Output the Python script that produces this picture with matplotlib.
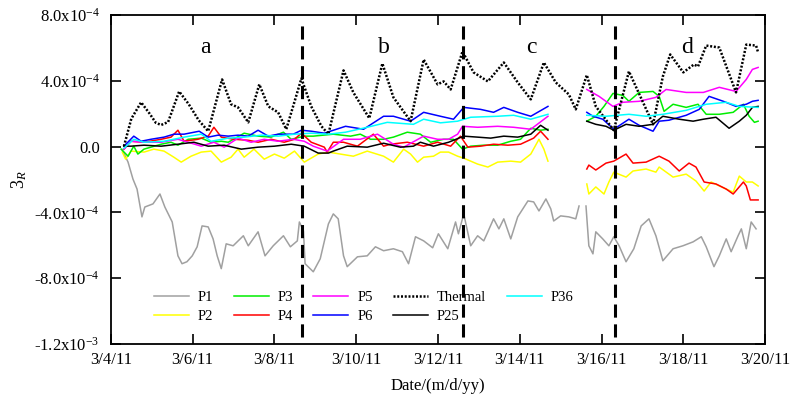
import numpy as np
import matplotlib
matplotlib.use("Agg")
import matplotlib.pyplot as plt

plt.rcParams['font.family'] = ['Liberation Serif', 'DejaVu Serif']
plt.rcParams['mathtext.fontset'] = 'custom'
plt.rcParams['mathtext.rm'] = 'Liberation Serif'
plt.rcParams['mathtext.it'] = 'Liberation Serif:italic'

# strain values are in units of 1e-4, time in days since 3/4/11 00:00
SCALE = 1e-4

p1_days = [0.27, 0.42, 0.54, 0.64, 0.76, 0.83, 1.03, 1.20, 1.32, 1.50, 1.64, 1.74, 1.86, 1.99, 2.11,
           2.23, 2.38, 2.50, 2.60, 2.70, 2.82, 2.99, 3.24, 3.36, 3.60, 3.77, 3.97, 4.22, 4.39, 4.56,
           4.61, 4.71, 4.75, 4.95, 5.12, 5.32, 5.44, 5.56, 5.69, 5.78, 6.03, 6.27, 6.47, 6.67, 6.91,
           7.13, 7.28, 7.45, 7.65, 7.87, 8.01, 8.24, 8.43, 8.50, 8.63, 8.80, 8.97, 9.12, 9.22, 9.36,
           9.49, 9.61, 9.78, 9.95, 10.20, 10.34, 10.47, 10.64, 10.76, 10.83, 11.00, 11.20, 11.37, 11.45,
           11.62, 11.69, 11.79, 11.86, 12.03, 12.18, 12.30, 12.43, 12.60, 12.79, 12.97, 13.16, 13.33,
           13.50, 13.75, 13.99, 14.24, 14.44, 14.56, 14.75, 14.88, 15.05, 15.17, 15.34, 15.42, 15.54,
           15.66, 15.78]
p1_vals = [-0.15, -0.94, -1.97, -2.58, -4.27, -3.67, -3.48, -2.88, -3.67, -4.58, -6.64, -7.12, -7.00, -6.64, -6.09,
           -4.82, -4.88, -5.61, -6.64, -7.42, -5.91, -6.03, -5.42, -6.03, -5.18, -6.64, -6.03, -5.42, -6.09, -5.73,
           -4.58, -5.12, -7.12, -7.61, -6.82, -4.70, -4.09, -4.39, -6.64, -7.30, -6.70, -6.64, -6.09, -6.33, -6.21,
           -6.39, -7.12, -5.48, -5.73, -6.15, -5.30, -6.21, -4.58, -5.30, -4.09, -6.03, -5.42, -5.73, -5.18, -4.39,
           -5.00, -4.39, -5.61, -4.27, -3.30, -3.36, -3.91, -3.18, -3.79, -4.52, -4.21, -4.27, -4.39, -3.61,
           -3.61, -6.03, -6.52, -5.18, -5.61, -6.03, -5.48, -6.03, -7.00, -6.21, -4.82, -4.39, -5.42,
           -6.94, -6.21, -6.03, -5.79, -5.48, -6.09, -7.30, -6.64, -5.61, -6.39, -5.42, -5.00, -6.21,
           -4.58, -5.00]

p2_days = [0.28, 0.36, 0.49, 0.81, 1.05, 1.30, 1.54, 1.72, 1.96, 2.21, 2.45, 2.70, 2.94, 3.11, 3.26,
           3.50, 3.75, 4.00, 4.24, 4.49, 4.73, 5.07, 5.32, 5.93, 6.27, 6.67, 6.91, 7.16, 7.33, 7.50,
           7.65, 7.89, 8.06, 8.26, 8.48, 8.63, 8.97, 9.22, 9.46, 9.78, 10.02, 10.27, 10.47, 10.59, 10.69,
           11.64, 11.69, 11.86, 12.06, 12.18, 12.30, 12.60, 12.77, 13.09, 13.33, 13.41, 13.75, 14.07,
           14.31, 14.51, 14.68, 15.05, 15.22, 15.37, 15.54, 15.69, 15.83]
p2_vals = [-0.33, -0.76, -0.27, -0.33, -0.15, -0.27, -0.64, -0.94, -0.58, -0.33, -0.27, -0.94, -0.64, -0.15, -0.64,
           -0.15, -0.76, -0.45, -0.70, -0.27, -0.94, -0.45, -0.33, -0.58, -0.27, -0.58, -0.94, -0.15, -0.45, -0.94,
           -0.64, -0.58, -0.33, -0.33, -0.58, -0.70, -1.06, -1.24, -0.94, -0.88, -0.94, -0.45, 0.45, -0.15, -0.88,
           -2.27, -2.88, -2.45, -2.88, -2.15, -1.55, -1.85, -1.48, -1.36, -1.55, -1.24, -1.85, -1.67,
           -2.09, -2.70, -2.15, -2.58, -2.76, -1.79, -2.15, -2.15, -2.39]

p3_days = [0.25, 0.42, 0.56, 0.66, 0.81, 1.23, 1.47, 1.64, 1.89, 2.21, 2.45, 2.70, 2.87, 3.26, 3.60,
           3.92, 4.22, 4.41, 4.73, 4.95, 5.44, 5.86, 6.10, 6.35, 6.67, 6.91, 7.25, 7.57, 7.82, 8.14,
           8.38, 8.60, 8.80, 9.12, 9.46, 9.78, 10.02, 10.27, 10.51, 10.69,
           11.64, 11.86, 12.06, 12.28, 12.52, 12.67, 12.92, 13.26, 13.41, 13.53, 13.75, 14.07, 14.36,
           14.56, 14.88, 15.22, 15.47, 15.61, 15.74, 15.83]
p3_vals = [-0.15, -0.58, 0.03, -0.45, -0.15, 0.15, 0.27, 0.09, 0.45, 0.52, 0.27, 0.33, 0.27, 0.82, 0.64,
           0.58, 0.88, 0.45, 0.64, 0.64, 0.76, 0.64, 0.76, 0.45, 0.45, 0.58, 0.88, 0.76, 0.27, 0.45,
           0.45, -0.15, 0.03, 0.09, 0.09, 0.33, 0.45, 1.12, 1.00, 1.06,
           1.55, 1.85, 2.45, 3.24, 3.12, 2.76, 3.30, 3.36, 3.06, 2.15, 2.58, 2.39, 2.58,
           1.97, 1.97, 2.09, 2.58, 1.85, 1.48, 1.55]

p4_days = [0.32, 0.49, 0.81, 1.23, 1.47, 1.64, 1.79, 2.13, 2.38, 2.52, 2.70, 3.01, 3.36, 3.60, 3.92,
           4.24, 4.49, 4.66, 4.90, 5.22, 5.29, 5.44, 5.69, 6.03, 6.42, 6.67, 6.84, 7.25, 7.65, 7.99,
           8.31, 8.55, 8.73, 9.04, 9.36, 9.71, 10.02, 10.34, 10.51, 10.69,
           11.64, 11.69, 11.86, 12.11, 12.30, 12.60, 12.77, 13.09, 13.41, 13.65, 13.90, 14.14, 14.31,
           14.51, 14.80, 15.05, 15.22, 15.47, 15.54, 15.64, 15.83]
p4_vals = [-0.15, 0.33, 0.27, 0.45, 0.58, 1.00, 0.33, 0.45, 0.64, 1.18, 0.58, 0.45, 0.39, 0.27, 0.45,
           0.27, 0.45, 0.82, 0.27, -0.03, -0.33, 0.27, 0.27, 0.03, 0.76, 0.03, 0.15, 0.27, 0.03, 0.27,
           0.03, 0.64, -0.03, 0.03, 0.15, 0.09, 0.15, 0.52, 0.94, 0.45,
           -1.36, -1.12, -1.42, -1.00, -0.88, -0.45, -1.00, -0.94, -0.58, -0.88, -1.48, -1.00, -1.24,
           -2.15, -2.27, -2.58, -2.88, -2.15, -2.39, -3.24, -3.24]

p5_days = [0.32, 0.49, 0.81, 1.23, 1.64, 1.89, 2.21, 2.52, 2.77, 3.11, 3.43, 3.75, 4.09, 4.46, 4.73,
           4.95, 5.29, 5.69, 6.10, 6.52, 6.91, 7.16, 7.65, 7.99, 8.26, 8.48, 8.60, 8.97, 9.46, 9.85,
           10.27, 10.69,
           11.64, 11.94, 12.28, 12.52, 12.92, 13.33, 13.58, 14.07, 14.49, 14.88, 15.29, 15.54, 15.69, 15.83]
p5_vals = [-0.15, 0.33, 0.27, 0.27, 0.45, 0.27, 0.03, 0.27, -0.03, 0.52, 0.27, 0.45, 0.33, 0.45, 0.33,
           0.03, -0.27, 0.45, 0.45, 0.76, 0.15, -0.03, 0.64, 0.45, 0.45, 0.76, 1.24, 1.18, 1.24, 1.18,
           1.06, 1.85,
           3.48, 3.06, 2.45, 2.70, 2.76, 3.00, 3.48, 3.30, 3.30, 3.61, 3.36, 4.09, 4.70, 4.82]

p6_days = [0.32, 0.56, 0.74, 0.98, 1.30, 1.54, 1.79, 2.16, 2.38, 2.62, 2.87, 3.11, 3.36, 3.60, 3.85,
           4.09, 4.46, 4.66, 4.90, 5.22, 5.74, 6.18, 6.67, 6.91, 7.33, 7.65, 8.06, 8.38, 8.63, 9.04,
           9.36, 9.61, 9.95, 10.27, 10.69,
           11.64, 11.79, 12.03, 12.30, 12.67, 12.92, 13.26, 13.41, 13.65, 14.07, 14.39, 14.63, 14.98,
           15.29, 15.54, 15.69, 15.83]
p6_vals = [0.03, 0.64, 0.33, 0.45, 0.58, 0.76, 0.76, 0.94, 0.58, 0.70, 0.64, 0.70, 0.64, 1.00, 0.64,
           0.76, 0.76, 1.00, 0.94, 0.82, 1.24, 1.06, 1.85, 1.85, 1.55, 2.09, 1.85, 1.67, 2.39, 2.27,
           2.09, 2.39, 2.09, 1.85, 2.45,
           2.09, 1.85, 1.67, 1.06, 1.67, 1.30, 0.94, 1.55, 1.61, 1.91, 2.27, 3.06, 2.76,
           2.45, 2.58, 2.76, 2.82]

p25_days = [0.32, 0.49, 0.81, 1.23, 1.64, 2.03, 2.38, 2.77, 3.19, 3.60, 4.00, 4.41, 4.73, 5.07, 5.32,
            5.44, 5.78, 6.27, 6.67, 7.08, 7.40, 7.57, 7.89, 8.26, 8.63, 8.97, 9.29, 9.61, 9.95, 10.27,
            10.51, 10.69,
            11.64, 11.86, 12.11, 12.30, 12.60, 12.92, 13.26, 13.50, 13.90, 14.24, 14.49, 14.80, 15.12,
            15.37, 15.54, 15.69, 15.83]
p25_vals = [0.03, 0.03, 0.09, 0.03, 0.15, 0.27, 0.03, 0.09, -0.15, -0.03, 0.03, 0.15, 0.03, -0.39, -0.39,
            -0.27, 0.03, -0.03, 0.21, -0.03, 0.03, 0.27, 0.03, 0.27, 0.64, 0.58, 0.52, 0.64, 0.58, 0.76,
            1.30, 1.00,
            1.55, 1.36, 1.24, 1.00, 1.36, 1.24, 1.36, 1.85, 1.67, 1.55, 1.67, 1.79, 1.12,
            1.55, 1.91, 2.39, 2.45]

p36_days = [0.32, 0.56, 0.81, 1.30, 1.79, 2.21, 2.45, 2.87, 3.26, 3.68, 4.09, 4.49, 4.90, 5.32, 5.74,
            6.27, 6.76, 7.40, 7.65, 8.06, 8.48, 8.80, 9.46, 9.85, 10.27, 10.69,
            11.64, 12.11, 12.67, 13.09, 13.50, 14.07, 14.56, 15.05, 15.37, 15.83]
p36_vals = [-0.09, 0.45, 0.27, 0.33, 0.58, 0.76, 0.33, 0.52, 0.58, 0.70, 0.64, 0.76, 0.82, 0.76, 0.88,
            1.18, 1.48, 1.36, 1.67, 1.45, 1.55, 1.79, 1.85, 1.91, 1.67, 1.97,
            1.91, 1.85, 1.97, 1.85, 1.97, 2.21, 2.58, 2.70, 2.45, 2.39]

thermal_days = [0.32, 0.50, 0.74, 0.95, 1.10, 1.23, 1.40, 1.67, 1.90, 2.15, 2.38, 2.72, 2.94, 3.11, 3.36,
                3.63, 3.85, 4.09, 4.29, 4.66, 4.90, 5.15, 5.32, 5.69, 5.93, 6.32, 6.64, 6.91, 7.33, 7.65,
                7.99, 8.14, 8.31, 8.60, 8.87, 9.22, 9.61, 9.95, 10.27, 10.59, 10.88, 11.20, 11.37, 11.64,
                11.86, 12.30, 12.67, 13.26, 13.50, 13.68, 14.00, 14.26, 14.36, 14.56, 14.88, 15.29, 15.54,
                15.78, 15.83]
thermal_vals = [0.03, 1.70, 2.70, 2.00, 1.45, 1.32, 1.50, 3.36, 2.60, 1.60, 0.94, 4.09, 2.58, 2.39, 1.48,
                3.79, 2.45, 2.09, 1.06, 4.15, 2.45, 1.24, 0.76, 4.64, 3.30, 1.73, 5.06, 3.00, 1.55, 5.30,
                3.79, 3.97, 3.48, 5.79, 4.52, 3.97, 5.12, 3.91, 2.88, 5.12, 3.91, 3.18, 2.27, 4.36,
                2.45, 1.00, 4.58, 1.36, 4.27, 5.61, 4.52, 5.00, 4.88, 6.15, 6.03, 3.30, 6.21,
                6.15, 5.73]

# day inside the logging outage for each gauge (None = continuous record)
series_names = ['P1', 'P2', 'P3', 'P4', 'P5', 'P6', 'Thermal', 'P25', 'P36']
series_days = [p1_days, p2_days, p3_days, p4_days, p5_days, p6_days, thermal_days, p25_days, p36_days]
series_vals = [p1_vals, p2_vals, p3_vals, p4_vals, p5_vals, p6_vals, thermal_vals, p25_vals, p36_vals]
series_gap = [11.5, 11.2, 11.2, 11.2, 11.2, 11.2, None, 11.2, 11.2]
series_colors = ['#a0a0a0', '#ffff00', '#00ee00', '#ff0000', '#ff00ff', '#0000ff', 'black', 'black', '#00ffff']

stage_bounds = [4.68, 8.60, 12.33]
stage_labels = ['a', 'b', 'c', 'd']
stage_label_days = [2.30, 6.67, 10.29, 14.09]

tick_days = [0, 2, 4, 6, 8, 10, 12, 14, 16]
tick_labels = ['3/4/11', '3/6/11', '3/8/11', '3/10/11', '3/12/11', '3/14/11', '3/16/11', '3/18/11', '3/20/11']
ytick_vals = [-12e-4, -8e-4, -4e-4, 0, 4e-4, 8e-4]
ytick_labels = ['-1.2x10$^{-3}$', '-8.0x10$^{-4}$', '-4.0x10$^{-4}$', '0.0', '4.0x10$^{-4}$', '8.0x10$^{-4}$']


def with_gap(days, vals, gap):
    """insert nan at the outage so the line breaks there"""
    d = np.asarray(days, float)
    v = np.asarray(vals, float) * SCALE
    if gap is None:
        return d, v
    i = np.searchsorted(d, gap)
    return np.insert(d, i, np.nan), np.insert(v, i, np.nan)


fig = plt.figure(figsize=(7.92, 3.99), dpi=100)
ax = fig.add_axes([0.140, 0.138, 0.826, 0.824])

for name, days, vals, gap, col in zip(series_names, series_days, series_vals, series_gap, series_colors):
    d, v = with_gap(days, vals, gap)
    if name == 'Thermal':
        ax.plot(d, v, color=col, lw=1.8, ls=(0, (0.8, 0.7)), label=name)
    else:
        ax.plot(d, v, color=col, lw=1.1, label=name)

for b in stage_bounds:
    ax.axvline(b, ymin=0.02, ymax=0.98, color='black', lw=2.2, ls=(0, (4.3, 2.2)))

for lab, d in zip(stage_labels, stage_label_days):
    ax.text(d, 6.03e-4, lab, fontsize=17, ha='center', va='center')

ax.set_xlim(0, 16)
ax.set_ylim(-12e-4, 8e-4)
ax.set_xticks(tick_days)
ax.set_xticklabels(tick_labels)
ax.set_yticks(ytick_vals)
ax.set_yticklabels(ytick_labels)
ax.tick_params(direction='in', length=7, width=1.2, top=True, right=True, labelsize=12, pad=8)
ax.tick_params(axis='x', pad=6)
for s in ax.spines.values():
    s.set_linewidth(1.3)

ax.set_xlabel('Date/(m/d/yy)', fontsize=12, labelpad=7)
ax.set_ylabel('3$_R$', fontsize=13, labelpad=4)

ax.legend(ncol=5, loc='upper left', bbox_to_anchor=(0.055, 0.185), frameon=False, fontsize=10.5,
          handlelength=2.4, handletextpad=0.6, columnspacing=1.4, labelspacing=0.45, borderpad=0)

fig.savefig('out.png', dpi=100)
